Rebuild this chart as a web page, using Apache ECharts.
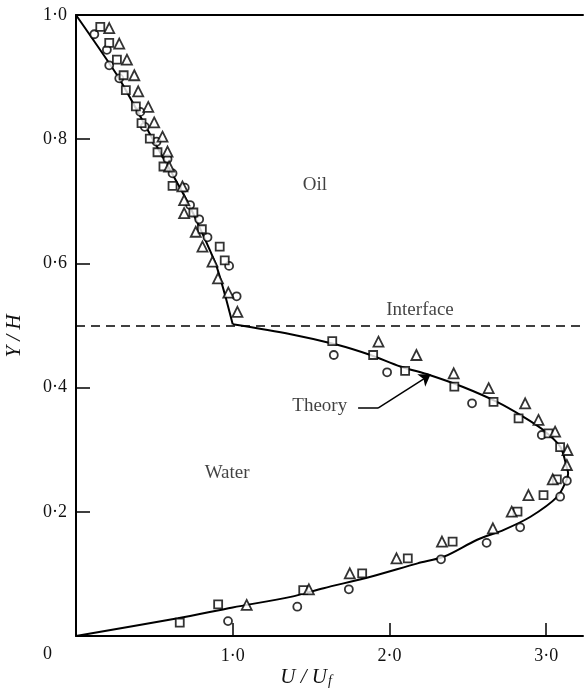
<!DOCTYPE html>
<html>
<head>
<meta charset="utf-8">
<script src="https://cdn.jsdelivr.net/npm/echarts@6/dist/echarts.min.js"></script>
<style>
  html, body { margin: 0; padding: 0; background: #fff; }
  #chart { width: 586px; height: 694px; }
</style>
</head>
<body>
<div id="chart"></div>
<script>
// theory curve, oil layer (Y/H from 1 down to the interface)
var oilTheoryU = [0, 0.27, 0.49, 0.71, 0.89, 0.95, 1.0];
var oilTheoryY = [1.0, 0.9, 0.8, 0.7, 0.6, 0.55, 0.502];

// theory curve, water layer (interface down to the wall)
var waterTheoryU = [1.0, 1.37, 1.667, 1.879, 2.07, 2.26, 2.47, 2.686, 2.855, 2.98, 3.09, 3.13, 3.14, 3.13, 3.07, 2.90, 2.73, 2.56, 2.35, 2.18, 1.88, 1.58, 1.37, 1.0, 0.65, 0];
var waterTheoryY = [0.502, 0.486, 0.469, 0.4525, 0.434, 0.42, 0.401, 0.377, 0.353, 0.332, 0.305, 0.273, 0.262, 0.251, 0.224, 0.192, 0.171, 0.155, 0.128, 0.117, 0.0955, 0.077, 0.063, 0.046, 0.0285, 0];

// measured points
var circleU = [0.117, 0.197, 0.212, 0.276, 0.410, 0.439, 0.514, 0.584, 0.616, 0.694, 0.728, 0.786, 0.839, 0.977, 1.025,
  1.645, 1.985, 2.527, 2.972, 3.132, 3.089, 2.834, 2.62, 2.329, 1.741, 1.412, 0.970];
var circleY = [0.969, 0.944, 0.919, 0.898, 0.844, 0.820, 0.796, 0.768, 0.745, 0.722, 0.694, 0.671, 0.642, 0.596, 0.547,
  0.4525, 0.4246, 0.3747, 0.3237, 0.250, 0.2243, 0.175, 0.150, 0.1235, 0.0752, 0.0472, 0.024];

var squareU = [0.155, 0.212, 0.261, 0.304, 0.318, 0.382, 0.418, 0.471, 0.520, 0.558, 0.616, 0.749, 0.803, 0.917, 0.949,
  1.635, 1.896, 2.10, 2.414, 2.664, 2.824, 3.015, 3.089, 3.068, 2.983, 2.817, 2.403, 2.117, 1.826, 1.45, 0.907, 0.662];
var squareY = [0.981, 0.955, 0.928, 0.903, 0.879, 0.853, 0.826, 0.801, 0.779, 0.756, 0.725, 0.682, 0.655, 0.627, 0.605,
  0.475, 0.4525, 0.427, 0.4015, 0.377, 0.3505, 0.3264, 0.304, 0.2523, 0.227, 0.2002, 0.152, 0.125, 0.101, 0.074, 0.051, 0.0215];

var triangleU = [0.212, 0.276, 0.325, 0.372, 0.397, 0.461, 0.499, 0.552, 0.584, 0.594, 0.679, 0.690, 0.690, 0.764, 0.807, 0.871, 0.906, 0.972, 1.030,
  1.93, 2.172, 2.41, 2.633, 2.866, 2.951, 3.057, 3.136, 3.132, 3.042, 2.887, 2.78, 2.66, 2.335, 2.045, 1.747, 1.486, 1.089];
var triangleY = [0.979, 0.954, 0.928, 0.903, 0.877, 0.852, 0.827, 0.804, 0.780, 0.756, 0.724, 0.702, 0.681, 0.651, 0.627, 0.603, 0.576, 0.553, 0.522,
  0.474, 0.4525, 0.423, 0.399, 0.3747, 0.348, 0.329, 0.2995, 0.2754, 0.2523, 0.227, 0.2002, 0.1734, 0.152, 0.125, 0.101, 0.0752, 0.050];

var xTicks = [1, 2, 3];
var yTicks = [0.2, 0.4, 0.6, 0.8, 1.0];

// region labels, in data coordinates
var notes = [
  { name: 'Oil', value: [1.525, 0.726] },
  { name: 'Interface', value: [2.195, 0.525] },
  { name: 'Water', value: [0.964, 0.262] },
  { name: 'Theory', value: [1.555, 0.37] }
];
// arrow from "Theory" to the curve: a flat lead then the pointer
var arrowLead = [[1.80, 0.367], [1.927, 0.367]];
var arrowTip = [[1.927, 0.367], [2.262, 0.421]];

var serif = 'Liberation Serif';
var ink = '#000';

function pairs(us, ys) {
    return us.map(function (u, i) { return [u, ys[i]]; });
}
function dot(v) {
    return v.toFixed(1).replace('.', '·');
}

var markerStyle = { color: '#fff', borderColor: ink, borderWidth: 1.8 };

var myChart = echarts.init(document.getElementById('chart'));
myChart.setOption({
    animation: false,
    backgroundColor: '#fff',
    grid: { left: 76, right: 3, top: 15, bottom: 58 },
    xAxis: [
        {
            type: 'value', min: 0, max: 3.235,
            axisLine: { lineStyle: { color: ink, width: 2 } },
            axisTick: { inside: true, length: 13, customValues: xTicks, lineStyle: { color: ink, width: 1.5 } },
            axisLabel: { customValues: xTicks, formatter: dot, margin: 11, color: '#111', fontFamily: serif, fontSize: 18 },
            splitLine: { show: false }
        },
        {
            // top frame line
            type: 'value', min: 0, max: 3.235, position: 'top',
            axisLine: { lineStyle: { color: ink, width: 2 } },
            axisTick: { show: false }, axisLabel: { show: false }, splitLine: { show: false }
        }
    ],
    yAxis: {
        type: 'value', min: 0, max: 1, interval: 0.2,
        axisLine: { lineStyle: { color: ink, width: 2 } },
        axisTick: { inside: true, length: 14, customValues: yTicks, lineStyle: { color: ink, width: 1.5 } },
        axisLabel: { customValues: yTicks, formatter: dot, margin: 9, color: '#111', fontFamily: serif, fontSize: 18 },
        splitLine: { show: false }
    },
    graphic: [
        { type: 'text', left: 43, top: 645, style: { text: '0', font: '18px "Liberation Serif"', fill: '#111' } },
        {
            type: 'text', x: 14, y: 336, rotation: Math.PI / 2,
            style: { text: 'Y / H', font: 'italic 21px "Liberation Serif"', fill: '#111', align: 'center', verticalAlign: 'middle' }
        },
        {
            type: 'text', x: 306, y: 677,
            style: {
                text: '{m|U / U}{s|f}', align: 'center', verticalAlign: 'middle', fill: '#111',
                rich: {
                    m: { font: 'italic 21px "Liberation Serif"', fill: '#111' },
                    s: { font: 'italic 14px "Liberation Serif"', fill: '#111', padding: [8, 0, 0, 1] }
                }
            }
        }
    ],
    series: [
        {
            type: 'line', name: 'oil theory', data: pairs(oilTheoryU, oilTheoryY),
            showSymbol: false, smooth: 0.2, lineStyle: { color: ink, width: 2 }, z: 2,
            markLine: {
                silent: true, symbol: 'none', label: { show: false },
                lineStyle: { color: ink, width: 1.5, type: [9, 6] },
                data: [{ yAxis: 0.5 }]
            }
        },
        {
            type: 'line', name: 'water theory', data: pairs(waterTheoryU, waterTheoryY),
            showSymbol: false, smooth: 0.3, lineStyle: { color: ink, width: 2 }, z: 2
        },
        {
            type: 'lines', coordinateSystem: 'cartesian2d',
            symbol: 'none',
            lineStyle: { color: ink, width: 1.5, opacity: 1 },
            data: [{ coords: arrowLead }], z: 3
        },
        {
            type: 'lines', coordinateSystem: 'cartesian2d',
            symbol: ['none', 'arrow'], symbolSize: [7, 11],
            lineStyle: { color: ink, width: 1.5, opacity: 1 },
            data: [{ coords: arrowTip }], z: 3
        },
        { type: 'scatter', name: 'circle', symbol: 'circle', symbolSize: 8, data: pairs(circleU, circleY), itemStyle: markerStyle, z: 4 },
        { type: 'scatter', name: 'square', symbol: 'rect', symbolSize: 8, data: pairs(squareU, squareY), itemStyle: markerStyle, z: 4 },
        { type: 'scatter', name: 'triangle', symbol: 'triangle', symbolSize: 10, data: pairs(triangleU, triangleY), itemStyle: markerStyle, z: 4 },
        {
            type: 'scatter', name: 'notes', symbolSize: 0, data: notes, clip: false, silent: true,
            label: { show: true, position: 'inside', formatter: '{b}', color: '#111', fontFamily: serif, fontSize: 19 },
            z: 5
        }
    ]
});
</script>
</body>
</html>
